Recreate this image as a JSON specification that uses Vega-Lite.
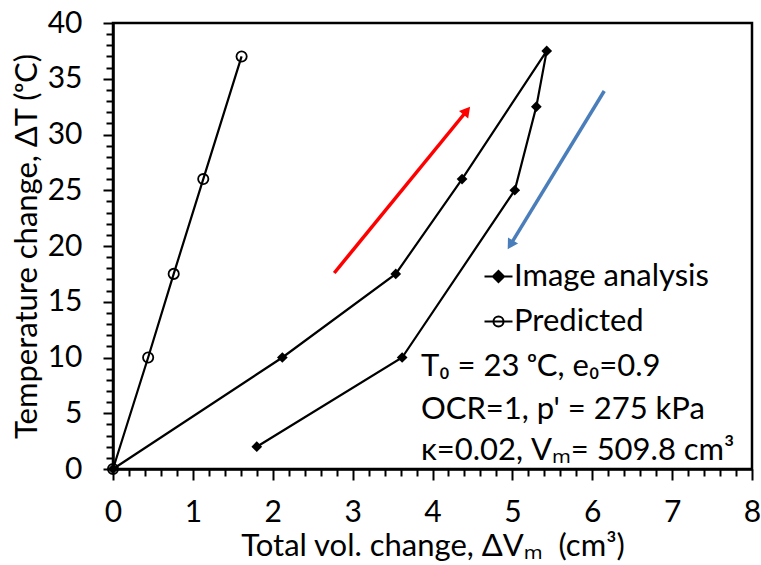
{
  "$schema": "https://vega.github.io/schema/vega-lite/v6.json",
  "width": 639,
  "height": 446,
  "autosize": "none",
  "padding": {"left": 113, "top": 23, "right": 9, "bottom": 96},
  "background": "white",
  "config": {
    "view": {"stroke": "black", "strokeWidth": 2.5},
    "font": "Lato, Noto Sans, DejaVu Sans",
    "axis": {
      "grid": false,
      "domainColor": "black",
      "domainWidth": 2.5,
      "tickColor": "black",
      "tickWidth": 2,
      "labelColor": "black",
      "titleColor": "black",
      "labelFont": "Lato, Noto Sans, DejaVu Sans",
      "titleFont": "Lato, Noto Sans, DejaVu Sans",
      "labelFontSize": 30,
      "titleFontSize": 31,
      "titleFontWeight": "normal"
    }
  },
  "datasets": {
    "curves": [
      {"series": "Image analysis", "order": 1, "dv": 0, "dt": 0},
      {"series": "Image analysis", "order": 2, "dv": 2.12, "dt": 10},
      {"series": "Image analysis", "order": 3, "dv": 3.54, "dt": 17.5},
      {"series": "Image analysis", "order": 4, "dv": 4.37, "dt": 26},
      {"series": "Image analysis", "order": 5, "dv": 5.43, "dt": 37.5},
      {"series": "Image analysis", "order": 6, "dv": 5.3, "dt": 32.5},
      {"series": "Image analysis", "order": 7, "dv": 5.03, "dt": 25},
      {"series": "Image analysis", "order": 8, "dv": 3.62, "dt": 10},
      {"series": "Image analysis", "order": 9, "dv": 1.8, "dt": 2},
      {"series": "Predicted", "order": 1, "dv": 0, "dt": 0},
      {"series": "Predicted", "order": 2, "dv": 0.44, "dt": 10},
      {"series": "Predicted", "order": 3, "dv": 0.76, "dt": 17.5},
      {"series": "Predicted", "order": 4, "dv": 1.13, "dt": 26},
      {"series": "Predicted", "order": 5, "dv": 1.61, "dt": 37}
    ],
    "arrows": [
      {"arrow": "red", "part": "tail", "dv": 2.77, "dt": 17.58},
      {"arrow": "red", "part": "head", "dv": 4.43, "dt": 32.13},
      {"arrow": "blue", "part": "tail", "dv": 6.15, "dt": 33.9},
      {"arrow": "blue", "part": "head", "dv": 4.975, "dt": 20.1}
    ],
    "notes": [
      {"label": "T₀ = 23 ᵒC, e₀=0.9", "dv": 3.855, "dt": 8.3},
      {"label": "OCR=1, p' = 275 kPa", "dv": 3.855, "dt": 4.5},
      {"label": "κ=0.02, Vₘ= 509.8 cm³", "dv": 3.855, "dt": 0.85}
    ]
  },
  "encoding": {
    "x": {
      "field": "dv",
      "type": "quantitative",
      "scale": {"domain": [0, 8], "nice": false, "zero": false},
      "axis": {
        "title": "Total vol. change, ΔVₘ\u00a0\u00a0(cm³)",
        "values": [0,0.2,0.4,0.6,0.8,1,1.2,1.4,1.6,1.8,2,2.2,2.4,2.6,2.8,3,3.2,3.4,3.6,3.8,4,4.2,4.4,4.6,4.8,5,5.2,5.4,5.6,5.8,6,6.2,6.4,6.6,6.8,7,7.2,7.4,7.6,7.8,8],
        "labelExpr": "abs(datum.value - round(datum.value)) < 0.000001 ? format(datum.value, 'd') : ''",
        "tickSize": {"expr": "abs(datum.value - round(datum.value)) < 0.000001 ? 11 : 7"},
        "labelPadding": 17,
        "titlePadding": 4,
        "labelFlush": false,
        "labelOverlap": false
      }
    },
    "y": {
      "field": "dt",
      "type": "quantitative",
      "scale": {"domain": [0, 40], "nice": false, "zero": false},
      "axis": {
        "title": "Temperature change, ΔT (ᵒC)",
        "values": [0,1,2,3,4,5,6,7,8,9,10,11,12,13,14,15,16,17,18,19,20,21,22,23,24,25,26,27,28,29,30,31,32,33,34,35,36,37,38,39,40],
        "labelExpr": "datum.value % 5 === 0 ? format(datum.value, 'd') : ''",
        "tickSize": {"expr": "datum.value % 5 === 0 ? 10 : 7"},
        "labelPadding": 21,
        "titlePadding": 4,
        "labelFlush": false,
        "labelOverlap": false
      }
    }
  },
  "layer": [
    {
      "data": {"name": "arrows"},
      "transform": [{"filter": "datum.arrow === 'red'"}],
      "mark": {"type": "line", "color": "#FF0000", "strokeWidth": 3.5}
    },
    {
      "data": {"name": "arrows"},
      "transform": [{"filter": "datum.arrow === 'red' && datum.part === 'head'"}],
      "mark": {"type": "point", "shape": "triangle-up", "filled": true, "color": "#FF0000", "size": 140, "angle": 39.3, "opacity": 1}
    },
    {
      "data": {"name": "arrows"},
      "transform": [{"filter": "datum.arrow === 'blue'"}],
      "mark": {"type": "line", "color": "#4A7EBB", "strokeWidth": 3.5}
    },
    {
      "data": {"name": "arrows"},
      "transform": [{"filter": "datum.arrow === 'blue' && datum.part === 'head'"}],
      "mark": {"type": "point", "shape": "triangle-up", "filled": true, "color": "#4A7EBB", "size": 140, "angle": 211.3, "opacity": 1}
    },
    {
      "data": {"name": "curves"},
      "mark": {"type": "line", "color": "black", "strokeWidth": 2.2},
      "encoding": {
        "detail": {"field": "series"},
        "order": {"field": "order", "type": "quantitative"}
      }
    },
    {
      "data": {"name": "curves"},
      "transform": [{"filter": "datum.series === 'Image analysis'"}],
      "mark": {"type": "point", "shape": "diamond", "filled": true, "color": "black", "size": 115, "opacity": 1}
    },
    {
      "data": {"name": "curves"},
      "transform": [{"filter": "datum.series === 'Predicted'"}],
      "mark": {"type": "point", "shape": "circle", "filled": false, "color": "black", "strokeWidth": 1.8, "size": 105, "opacity": 1}
    },
    {
      "data": {"name": "curves"},
      "transform": [{"filter": "false"}],
      "mark": {"type": "point", "filled": true, "stroke": "black", "strokeWidth": 2, "opacity": 1},
      "encoding": {
        "shape": {
          "field": "series",
          "type": "nominal",
          "scale": {"domain": ["Image analysis", "Predicted"], "range": ["M-1,0L1,0M0,-0.4L0.4,0L0,0.4L-0.4,0Z", "M-1,0L1,0M-0.36,0A0.36,0.36,0,1,0,0.36,0A0.36,0.36,0,1,0,-0.36,0Z"]},
          "legend": {
            "orient": "none",
            "legendX": 370,
            "legendY": 238,
            "title": null,
            "direction": "vertical",
            "labelFontSize": 31,
            "labelFont": "Lato, Noto Sans, DejaVu Sans",
            "labelColor": "black",
            "labelLimit": 0,
            "symbolSize": 784,
            "symbolStrokeWidth": 2,
            "rowPadding": 13,
            "labelOffset": 0,
            "padding": 0,
            "encode": {
              "symbols": {
                "fill": {"condition": {"test": "datum.value === 'Predicted'", "value": "transparent"}, "value": "black"},
                "stroke": {"value": "black"},
                "strokeWidth": {"value": 2}
              }
            }
          }
        },
        "fill": {
          "field": "series",
          "type": "nominal",
          "scale": {"domain": ["Image analysis", "Predicted"], "range": ["black", "transparent"]},
          "legend": null
        }
      }
    },
    {
      "data": {"name": "notes"},
      "mark": {"type": "text", "align": "left", "baseline": "alphabetic", "fontSize": 31, "color": "black", "font": "Lato, Noto Sans, DejaVu Sans"},
      "encoding": {
        "text": {"field": "label"}
      }
    }
  ]
}
